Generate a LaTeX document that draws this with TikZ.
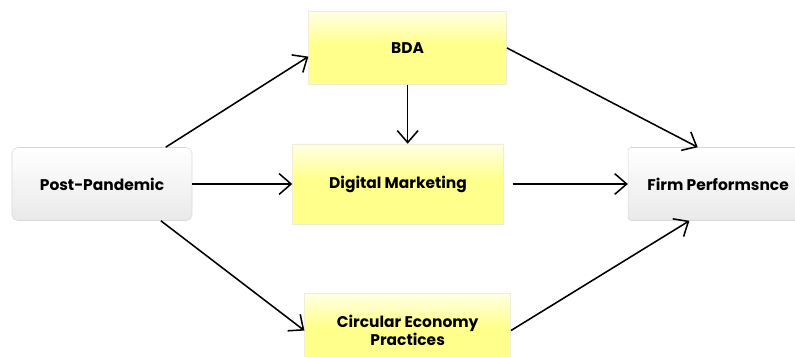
\documentclass[tikz,border=0pt]{standalone}
\usepackage{fontspec}
\setmainfont{Poppins}
\usetikzlibrary{arrows.meta,positioning}

% pale band at the top, plain yellow below
\pgfdeclareverticalshading{factorfill}{100bp}{color(0bp)=(yellow!45); color(53bp)=(yellow!45); color(75bp)=(yellow!10); color(100bp)=(yellow!10)}

\begin{document}
\begin{tikzpicture}[
    every node/.style={font=\fontsize{11}{13}\selectfont\bfseries},
    plain/.style={draw=gray!30, rounded corners=4pt, align=center, minimum width=4.5cm, minimum height=1.825cm, top color=white, bottom color=gray!17},
    factor/.style={draw=yellow!40!gray!25, align=center, minimum height=1.825cm, shading=factorfill},
    flow/.style={-{Straight Barb[length=3mm, width=5.2mm, line width=1.1pt]}, line width=1.1pt}
]
\useasboundingbox (0,0) rectangle (19.875,-8.925);
\node[plain] (post) at (2.55,-4.6) {Post-Pandemic};
\node[factor, minimum width=5.275cm, minimum height=2cm, right=2.5cm of post] (digital) {Digital Marketing};
\node[factor, minimum width=4.95cm, above=1.475cm of digital, xshift=0.24cm] (bda) {BDA};
\node[factor, minimum width=5.15cm, minimum height=1.85cm, below=1.725cm of digital, xshift=0.24cm] (circular) {Circular Economy\\Practices};
\node[plain, rounded corners=2pt, right=3.1cm of digital] (firm) {Firm Performsnce};
\draw[flow] (post.30) -- (bda.185);
\draw[flow] (post) -- (digital);
\draw[flow] (post.-32) -- (circular.west);
\draw[flow] (bda.south) -- (bda.south |- digital.north);
\draw[flow] (bda.east) -- (firm.119);
\draw[flow, shorten <=0.22cm] (digital) -- (firm);
\draw[flow] (circular.east) -- (firm.232);
\end{tikzpicture}
\end{document}
